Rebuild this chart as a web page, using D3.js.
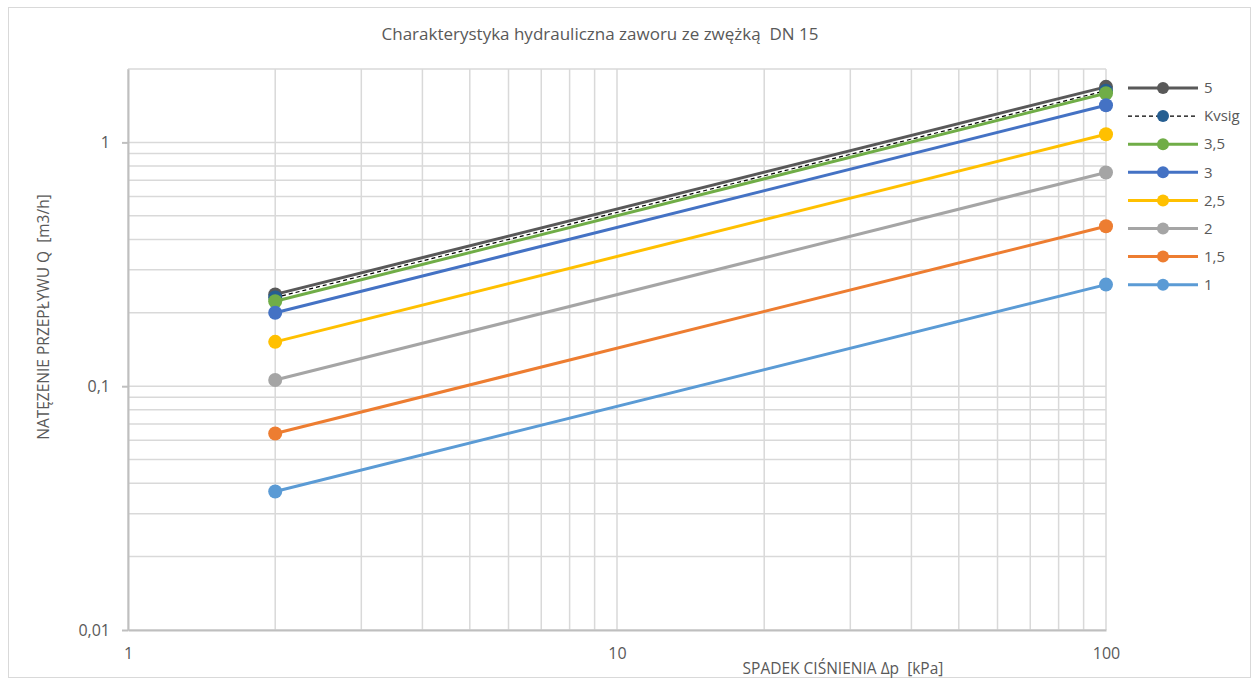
<!DOCTYPE html>
<html>
<head>
<meta charset="utf-8">
<script src="https://cdn.jsdelivr.net/npm/d3@7"></script>
<style>
  body { margin: 0; background: #fff; }
  text { font-family: "Open Sans", sans-serif; fill: #595959; white-space: pre; }
</style>
</head>
<body>
<div id="chart-area"></div>
<script>
const W = 1258
const H = 684
const MARGIN = { LEFT: 128, RIGHT: 152, TOP: 69, BOTTOM: 54 }

// data: pressure drop [kPa] and flow [m3/h]
const dp = [2, 100]
const seriesNames = ["5", "Kvsig", "3,5", "3", "2,5", "2", "1,5", "1"]
const q5 = [0.238, 1.69]
const qKvsig = [0.231, 1.63]
const q35 = [0.223, 1.59]
const q3 = [0.200, 1.42]
const q25 = [0.152, 1.08]
const q2 = [0.106, 0.753]
const q15 = [0.064, 0.453]
const q1 = [0.037, 0.261]
const xTickLabels = [1, 10, 100]
const yTickLabels = [0.01, 0.1, 1]

const seriesValues = [q5, qKvsig, q35, q3, q25, q2, q15, q1]
const colors = ["#595959", "#255e91", "#70ad47", "#4472c4", "#ffc000", "#a5a5a5", "#ed7d31", "#5b9bd5"]

const svg = d3.select("#chart-area").append("svg")
  .attr("width", W)
  .attr("height", H)

// outer chart border
svg.append("rect")
  .attr("x", 8.5).attr("y", 7.5)
  .attr("width", 1242).attr("height", 670)
  .attr("fill", "#fff")
  .attr("stroke", "#d9d9d9")

const x = d3.scaleLog()
  .domain([1, 100])
  .range([MARGIN.LEFT, W - MARGIN.RIGHT])

const y = d3.scaleLog()
  .domain([0.01, 2])
  .range([H - MARGIN.BOTTOM, MARGIN.TOP])

const fmt = d => String(d).replace(".", ",")

// gridlines (major + minor)
const grid = svg.append("g").attr("stroke", "#d9d9d9").attr("stroke-width", 1.5)
grid.selectAll(".vx").data(x.ticks())
  .enter().append("line")
  .attr("x1", d => x(d)).attr("x2", d => x(d))
  .attr("y1", y(0.01)).attr("y2", y(2))
grid.selectAll(".hy").data(y.ticks())
  .enter().append("line")
  .attr("x1", x(1)).attr("x2", x(100))
  .attr("y1", d => y(d)).attr("y2", d => y(d))

// axes
const yAxisGroup = svg.append("g")
  .attr("transform", `translate(${MARGIN.LEFT}, 0)`)
  .call(d3.axisLeft(y).tickValues(yTickLabels).tickFormat(fmt)
    .tickSize(6).tickSizeOuter(0).tickPadding(12))
const xAxisGroup = svg.append("g")
  .attr("transform", `translate(0, ${H - MARGIN.BOTTOM})`)
  .call(d3.axisBottom(x).tickValues(xTickLabels).tickFormat(fmt)
    .tickSize(0).tickPadding(18))

svg.selectAll(".domain, .tick line")
  .attr("stroke", "#bfbfbf")
  .attr("stroke-width", 2)
svg.selectAll(".tick text")
  .style("font-family", "'Open Sans', sans-serif")
  .style("font-size", "16px")
  .attr("fill", "#595959")

// Title
svg.append("text")
  .attr("x", 600)
  .attr("y", 40)
  .attr("text-anchor", "middle")
  .style("font-size", "17px")
  .text("Charakterystyka hydrauliczna zaworu ze zwężką  DN 15")

// axis labels
svg.append("text")
  .attr("x", 843)
  .attr("y", 674)
  .attr("text-anchor", "middle")
  .style("font-size", "15.5px")
  .text("SPADEK CIŚNIENIA Δp  [kPa]")

svg.append("text")
  .attr("transform", "translate(49, 317) rotate(-90)")
  .attr("text-anchor", "middle")
  .style("font-size", "15.5px")
  .text("NATĘZENIE PRZEPŁYWU Q  [m3/h]")

// series
const line = d3.line()
  .x(d => x(d[0]))
  .y(d => y(d[1]))

seriesValues.forEach((vals, i) => {
  const pts = dp.map((p, j) => [p, vals[j]])
  const dashed = seriesNames[i] === "Kvsig"
  const sg = svg.append("g")
  sg.append("path")
    .datum(pts)
    .attr("d", line)
    .attr("fill", "none")
    .attr("stroke", dashed ? "#000" : colors[i])
    .attr("stroke-width", dashed ? 1.2 : 3)
    .attr("stroke-dasharray", dashed ? "4,3" : null)
  sg.selectAll("circle").data(pts)
    .enter().append("circle")
    .attr("cx", d => x(d[0]))
    .attr("cy", d => y(d[1]))
    .attr("r", 7)
    .attr("fill", colors[i])
})

// legend
const legend = svg.append("g")
seriesNames.forEach((name, i) => {
  const ly = 88 + i * 28.1
  const dashed = name === "Kvsig"
  legend.append("line")
    .attr("x1", 1128).attr("x2", 1198)
    .attr("y1", ly).attr("y2", ly)
    .attr("stroke", dashed ? "#000" : colors[i])
    .attr("stroke-width", dashed ? 1.2 : 3)
    .attr("stroke-dasharray", dashed ? "4,3" : null)
  legend.append("circle")
    .attr("cx", 1163).attr("cy", ly)
    .attr("r", 6)
    .attr("fill", colors[i])
  legend.append("text")
    .attr("x", 1204).attr("y", ly)
    .attr("dy", "0.35em")
    .style("font-size", "15px")
    .text(name)
})
</script>
</body>
</html>
